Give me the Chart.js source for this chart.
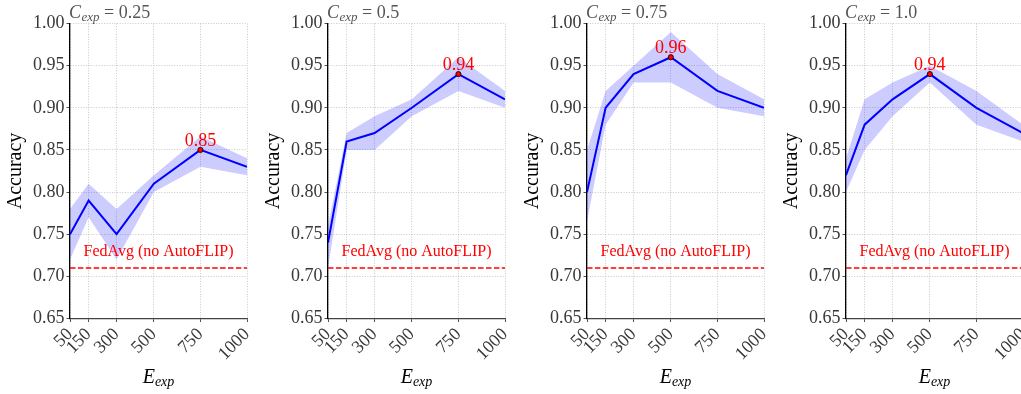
<!DOCTYPE html>
<html><head><meta charset="utf-8">
<script src="https://cdn.jsdelivr.net/npm/chart.js@4.4.1/dist/chart.umd.min.js"></script>
<style>
html,body{margin:0;padding:0;background:#fff;overflow:hidden;width:1021px;height:394px;position:relative;}
.panel{position:absolute;top:0;width:259px;height:394px;}
</style></head><body>
<script>
const xValues = [50, 150, 300, 500, 750, 1000];
const xTickLabels = ['50', '150', '300', '500', '750', '1000'];
const yTickValues = [0.65, 0.70, 0.75, 0.80, 0.85, 0.90, 0.95, 1.00];
const cExpLabels = ['0.25', '0.5', '0.75', '1.0'];

const mean025  = [0.75, 0.79, 0.75, 0.81, 0.85, 0.83];
const upper025 = [0.78, 0.81, 0.78, 0.82, 0.866, 0.84];
const lower025 = [0.72, 0.77, 0.72, 0.80, 0.83, 0.82];

const mean05  = [0.74, 0.86, 0.87, 0.90, 0.94, 0.91];
const upper05 = [0.76, 0.87, 0.89, 0.91, 0.96, 0.92];
const lower05 = [0.71, 0.85, 0.85, 0.89, 0.92, 0.90];

const mean075  = [0.80, 0.90, 0.94, 0.96, 0.92, 0.90];
const upper075 = [0.85, 0.92, 0.95, 0.99, 0.94, 0.91];
const lower075 = [0.765, 0.88, 0.93, 0.93, 0.90, 0.89];

const mean10  = [0.82, 0.88, 0.91, 0.94, 0.90, 0.87];
const upper10 = [0.84, 0.91, 0.93, 0.95, 0.92, 0.88];
const lower10 = [0.80, 0.85, 0.89, 0.93, 0.88, 0.86];

const fedAvgBaseline = 0.71;
const fedAvgLabel = 'FedAvg (no AutoFLIP)';

const panels = [
  {c: cExpLabels[0], mean: mean025, upper: upper025, lower: lower025},
  {c: cExpLabels[1], mean: mean05,  upper: upper05,  lower: lower05},
  {c: cExpLabels[2], mean: mean075, upper: upper075, lower: lower075},
  {c: cExpLabels[3], mean: mean10,  upper: upper10,  lower: lower10}
];
const panelLefts = [0, 258, 517, 776];

const SERIF = '"Liberation Serif", "DejaVu Serif", serif';

const decor = {
  id: 'decor',
  afterDraw(chart) {
    const o = chart.options.plugins.decor;
    const {ctx, chartArea: a, scales: {x, y}} = chart;
    const cx = (a.left + a.right) / 2;
    ctx.save();
    // FedAvg label
    ctx.fillStyle = '#ff0000';
    ctx.font = '16px ' + SERIF;
    ctx.textAlign = 'center';
    ctx.textBaseline = 'alphabetic';
    ctx.fillText(fedAvgLabel, cx, y.getPixelForValue(fedAvgBaseline + 0.01) - 4);
    // max annotation
    const m = o.mean;
    let mi = 0;
    for (let i = 1; i < m.length; i++) if (m[i] > m[mi]) mi = i;
    ctx.font = '18px ' + SERIF;
    ctx.fillText(m[mi].toFixed(2), x.getPixelForValue(xValues[mi]), y.getPixelForValue(m[mi]) - 4);
    // title  C_exp = value
    ctx.fillStyle = '#555';
    ctx.textAlign = 'left';
    let tx = a.left - 1, ty = 18;
    ctx.font = 'italic 18px ' + SERIF;
    ctx.fillText('C', tx, ty); tx += ctx.measureText('C').width + 0.5;
    ctx.font = 'italic 13px ' + SERIF;
    ctx.fillText('exp', tx, ty + 3); tx += ctx.measureText('exp').width;
    ctx.font = '18px ' + SERIF;
    ctx.fillText(' = ' + o.c, tx, ty);
    // x label E_exp
    ctx.fillStyle = '#000';
    ctx.font = 'italic 20px ' + SERIF;
    const wE = ctx.measureText('E').width;
    ctx.font = 'italic 14px ' + SERIF;
    const wS = ctx.measureText('exp').width;
    let ex = cx - (wE + wS) / 2;
    ctx.font = 'italic 20px ' + SERIF;
    ctx.fillText('E', ex, 383);
    ctx.font = 'italic 14px ' + SERIF;
    ctx.fillText('exp', ex + wE, 386);
    // y label
    ctx.translate(a.left - 49, (a.top + a.bottom) / 2);
    ctx.rotate(-Math.PI / 2);
    ctx.textAlign = 'center';
    ctx.font = '20px ' + SERIF;
    ctx.fillText('Accuracy', 0, 0);
    ctx.restore();
  }
};

panels.forEach((p, i) => {
  const div = document.createElement('div');
  div.className = 'panel';
  div.style.left = panelLefts[i] + 'px';
  const cv = document.createElement('canvas');
  cv.width = 259; cv.height = 394;
  div.appendChild(cv);
  document.body.appendChild(div);

  let mi = 0;
  for (let k = 1; k < p.mean.length; k++) if (p.mean[k] > p.mean[mi]) mi = k;

  const pts = arr => arr.map((v, k) => ({x: xValues[k], y: v}));

  new Chart(cv, {
    type: 'line',
    data: {
      datasets: [
        {data: [{x: xValues[mi], y: p.mean[mi]}], showLine: false, pointRadius: 2.6,
         pointBackgroundColor: '#ff0000', pointBorderColor: '#000', pointBorderWidth: 0.8},
        {data: pts(p.mean), borderColor: '#0000ff', borderWidth: 2, pointRadius: 0, tension: 0, fill: false},
        {data: [{x: xValues[0], y: fedAvgBaseline}, {x: xValues[xValues.length - 1], y: fedAvgBaseline}],
         borderColor: '#ff0000', borderWidth: 1.5, borderDash: [5.5, 2.4], pointRadius: 0, fill: false},
        {data: pts(p.upper), borderWidth: 0, borderColor: 'rgba(0,0,0,0)', pointRadius: 0, fill: false},
        {data: pts(p.lower), borderWidth: 0, borderColor: 'rgba(0,0,0,0)', pointRadius: 0,
         fill: '-1', backgroundColor: 'rgba(0,0,255,0.2)'}
      ]
    },
    options: {
      responsive: false,
      animation: false,
      events: [],
      layout: {padding: {top: 23.5, right: 12, left: 0, bottom: 0}},
      plugins: {
        legend: {display: false},
        tooltip: {enabled: false},
        filler: {drawTime: 'beforeDatasetsDraw'},
        decor: {c: p.c, mean: p.mean}
      },
      scales: {
        x: {
          type: 'linear', min: 50, max: 1000,
          afterBuildTicks: s => { s.ticks = xValues.map(v => ({value: v})); },
          afterFit: s => { s.height = 75.5; s.paddingLeft = 0; s.paddingRight = 0; },
          ticks: {
            autoSkip: false, maxRotation: 45, minRotation: 45, padding: 2,
            color: '#383838', font: {family: SERIF, size: 18},
            callback: (v) => { const k = xValues.indexOf(v); return k >= 0 ? xTickLabels[k] : ''; }
          },
          grid: {color: 'rgba(170,170,170,0.8)', lineWidth: 0.8, tickColor: '#555', tickLength: 3.5, tickWidth: 1},
          border: {display: true, color: '#444', width: 1.2, dash: [1, 1.6]}
        },
        y: {
          type: 'linear', min: 0.65, max: 1.0,
          afterBuildTicks: s => { s.ticks = yTickValues.map(v => ({value: v})); },
          afterFit: s => { s.width = 70; s.paddingTop = 0; s.paddingBottom = 0; },
          ticks: {
            padding: 2, color: '#383838', font: {family: SERIF, size: 18},
            callback: v => v.toFixed(2)
          },
          grid: {color: 'rgba(170,170,170,0.8)', lineWidth: 0.8, tickColor: '#555', tickLength: 3.5, tickWidth: 1},
          border: {display: true, color: '#000', width: 1.3, dash: [1, 1.6]}
        }
      }
    },
    plugins: [decor]
  });
});
</script>
</body></html>
